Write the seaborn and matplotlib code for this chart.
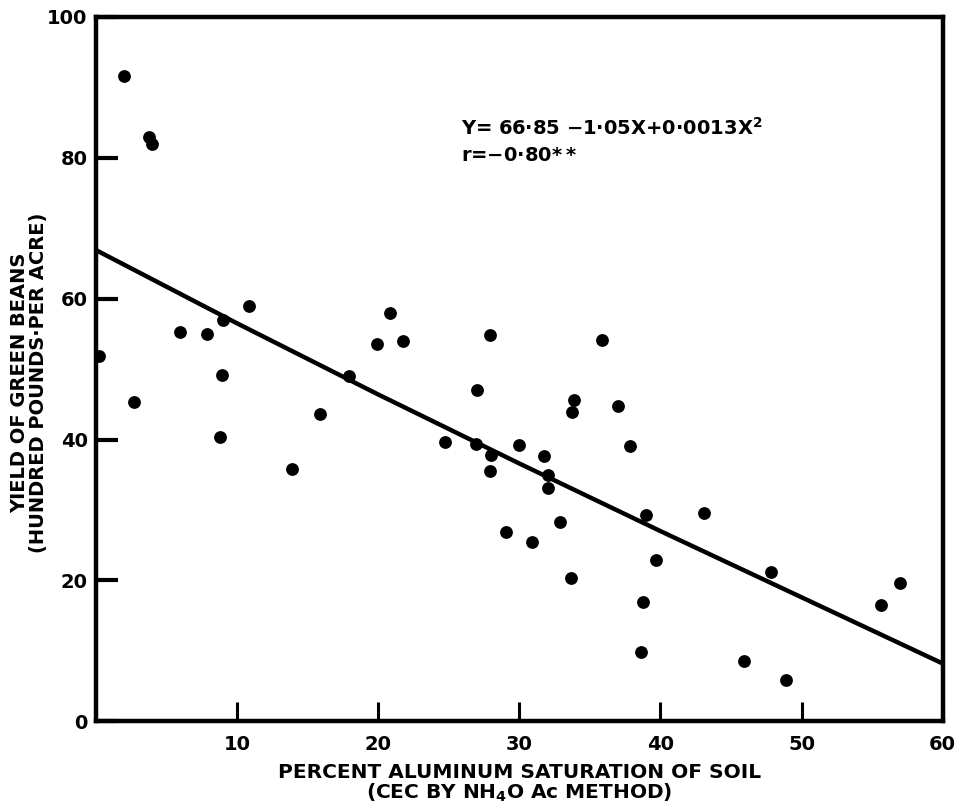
import matplotlib
matplotlib.use("Agg")
import matplotlib.pyplot as plt
import seaborn as sns
import pandas as pd

# aluminum saturation (%) and bean yield (hundred lb / acre)
al_sat = [1.98, 3.75, 3.97, 0.2, 2.71, 5.97, 7.88, 9.02, 8.9, 8.78,
          10.86, 13.93, 15.89, 17.94, 19.95, 20.87, 21.76, 24.74, 27.0, 27.9,
          35.89, 33.87, 33.76, 36.99, 26.91, 28.02, 27.95, 29.98, 31.75, 32.01,
          32.06, 37.84, 38.95, 29.09, 30.9, 32.88, 39.68, 33.69, 43.06, 47.8,
          56.94, 55.64, 38.76, 38.65, 45.91, 48.87]
bean_yield = [91.6, 83.0, 82.0, 51.8, 45.3, 55.2, 55.0, 57.0, 49.2, 40.4,
              59.0, 35.8, 43.6, 49.0, 53.6, 57.9, 54.0, 39.6, 47.1, 54.9,
              54.1, 45.6, 43.9, 44.7, 39.3, 37.8, 35.6, 39.2, 37.6, 34.9,
              33.1, 39.1, 29.3, 26.9, 25.4, 28.3, 22.9, 20.3, 29.6, 21.2,
              19.6, 16.5, 16.9, 9.8, 8.5, 5.8]

# fitted curve as drawn
fit_x = [0, 10, 20, 30, 40, 50, 60]
fit_y = [66.9, 56.5, 46.4, 36.6, 27.0, 17.6, 8.2]

x_ticks = [10, 20, 30, 40, 50, 60]
y_ticks = [0, 20, 40, 60, 80, 100]

df = pd.DataFrame({"al": al_sat, "yld": bean_yield})
fit = pd.DataFrame({"x": fit_x, "y": fit_y})

sns.set_style("white")
plt.rcParams["font.family"] = ["DejaVu Sans"]
plt.rcParams["font.weight"] = "bold"
plt.rcParams["text.color"] = "black"
plt.rcParams["axes.labelcolor"] = "black"
plt.rcParams["xtick.color"] = "black"
plt.rcParams["ytick.color"] = "black"

fig = plt.figure(figsize=(9.59, 8.05), dpi=100)
ax = fig.add_axes([0.100, 0.104, 0.883, 0.875])

sns.lineplot(data=fit, x="x", y="y", color="black", linewidth=3.2, ax=ax)
sns.scatterplot(data=df, x="al", y="yld", color="black", s=85,
                edgecolor="black", linewidth=0, ax=ax, zorder=3)

ax.set_xlim(0, 60)
ax.set_ylim(0, 100)
ax.set_xticks(x_ticks)
ax.set_yticks(y_ticks)
ax.set_xticklabels([str(t) for t in x_ticks], fontsize=14, fontweight="bold")
ax.set_yticklabels([str(t) for t in y_ticks], fontsize=14, fontweight="bold")
ax.tick_params(axis="x", bottom=True, direction="in", length=14, width=2.2,
               pad=10, colors="black")
ax.tick_params(axis="y", left=True, direction="in", length=16, width=3,
               pad=6, colors="black")

for sp in ax.spines.values():
    sp.set_visible(True)
    sp.set_linewidth(3.2)
    sp.set_color("black")

ax.set_xlabel("PERCENT ALUMINUM SATURATION OF SOIL\n(CEC BY NH$_\\mathbf{4}$O Ac METHOD)",
              fontsize=14.5, fontweight="bold", linespacing=1.0, labelpad=6,
              color="black")
ax.set_ylabel("YIELD OF GREEN BEANS\n(HUNDRED POUNDS·PER ACRE)",
              fontsize=14, fontweight="bold", linespacing=1.0, labelpad=4,
              color="black")
ax.yaxis.set_label_coords(-0.056, 0.48)

ax.text(25.9, 84.2, "Y= 66·85 −1·05X+0·0013X$^\\mathbf{2}$",
        fontsize=14, fontweight="bold", va="center", ha="left")
ax.text(25.9, 80.3, "r=−0·80$\\mathbf{**}$",
        fontsize=14, fontweight="bold", va="center", ha="left")

fig.savefig("out.png", dpi=100)
